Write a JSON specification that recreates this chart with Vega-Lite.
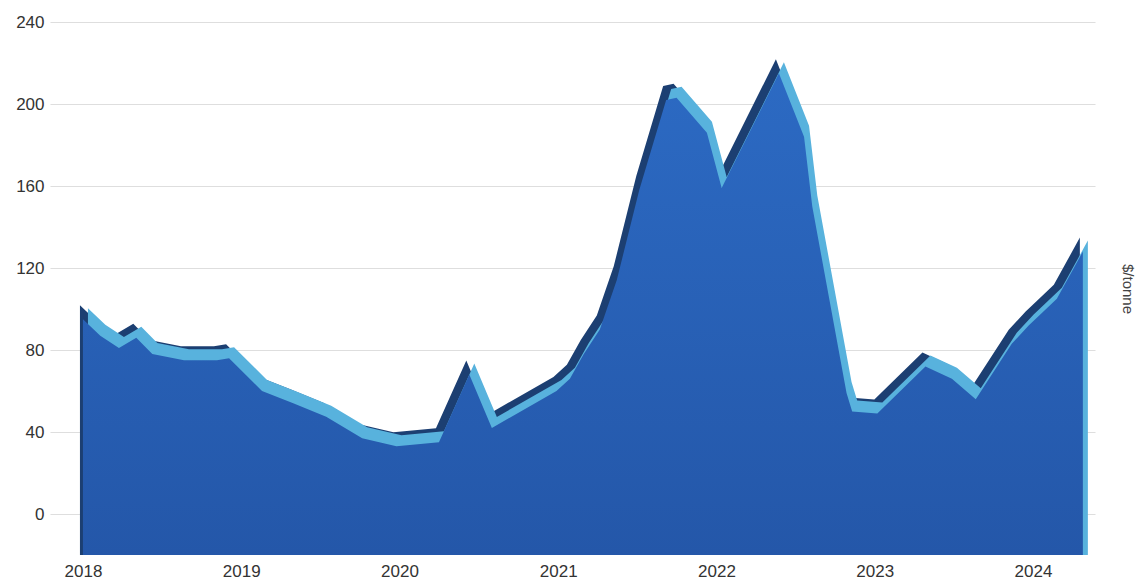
{
  "$schema": "https://vega.github.io/schema/vega-lite/v6.json",
  "autosize": {"type": "none"},
  "width": 1045,
  "height": 533,
  "padding": {"left": 50, "top": 22, "right": 52, "bottom": 31},
  "background": "white",
  "config": {
    "view": {"stroke": null},
    "font": "Liberation Sans",
    "axis": {"labelFont": "Liberation Sans", "labelColor": "#333333", "labelFontSize": 17, "domain": false, "ticks": false}
  },
  "data": {
    "values": [
      {"date": "2018-01-01", "price": 95},
      {"date": "2018-02-10", "price": 87},
      {"date": "2018-03-25", "price": 81},
      {"date": "2018-05-04", "price": 86},
      {"date": "2018-06-10", "price": 78},
      {"date": "2018-08-22", "price": 75},
      {"date": "2018-11-06", "price": 75},
      {"date": "2018-12-04", "price": 76},
      {"date": "2019-02-18", "price": 60},
      {"date": "2019-05-01", "price": 54},
      {"date": "2019-07-16", "price": 47.5},
      {"date": "2019-10-07", "price": 37},
      {"date": "2019-12-25", "price": 33},
      {"date": "2020-04-01", "price": 35},
      {"date": "2020-06-10", "price": 68},
      {"date": "2020-08-01", "price": 42},
      {"date": "2020-12-28", "price": 60},
      {"date": "2021-01-28", "price": 66},
      {"date": "2021-03-01", "price": 78},
      {"date": "2021-04-07", "price": 90},
      {"date": "2021-05-16", "price": 114},
      {"date": "2021-07-07", "price": 158},
      {"date": "2021-09-07", "price": 202},
      {"date": "2021-10-01", "price": 203},
      {"date": "2021-12-10", "price": 186},
      {"date": "2022-01-13", "price": 159},
      {"date": "2022-05-25", "price": 215},
      {"date": "2022-07-22", "price": 184},
      {"date": "2022-08-10", "price": 150},
      {"date": "2022-10-28", "price": 59},
      {"date": "2022-11-10", "price": 50},
      {"date": "2023-01-07", "price": 49},
      {"date": "2023-04-28", "price": 72},
      {"date": "2023-06-28", "price": 66},
      {"date": "2023-08-22", "price": 56},
      {"date": "2023-11-13", "price": 83},
      {"date": "2023-12-22", "price": 92},
      {"date": "2024-01-16", "price": 97},
      {"date": "2024-02-25", "price": 105},
      {"date": "2024-04-25", "price": 128}
    ]
  },
  "encoding": {
    "x": {
      "field": "date", "type": "temporal",
      "scale": {"domain": ["2017-10-17", "2024-05-23"]},
      "axis": {"format": "%Y", "tickCount": {"interval": "year", "step": 1}, "grid": false, "title": null, "labelDx": 13, "labelPadding": 8, "labelFontSize": 17}
    }
  },
  "layer": [
    {
      "mark": {"type": "area", "color": "#1c3f72", "xOffset": -3, "yOffset": -14, "interpolate": "linear"},
      "encoding": {
        "y": {
          "field": "price", "type": "quantitative",
          "scale": {"domain": [-20, 240], "nice": false, "zero": false},
          "axis": {"values": [0, 40, 80, 120, 160, 200, 240], "grid": true, "gridColor": "#dedede", "gridWidth": 1.2, "title": null, "labelPadding": 6, "orient": "left"}
        },
        "y2": {"datum": -20}
      }
    },
    {
      "mark": {"type": "area", "color": "#58b2dd", "xOffset": 5, "yOffset": -11, "interpolate": "linear"},
      "encoding": {
        "y": {
          "field": "price", "type": "quantitative",
          "axis": {"orient": "right", "labels": false, "grid": false, "title": "$/tonne", "titleAngle": 90, "titleFontSize": 15, "titleFontWeight": "normal", "titleColor": "#444444", "titlePadding": 24, "titleFont": "Liberation Sans"}
        },
        "y2": {"datum": -20}
      }
    },
    {
      "mark": {
        "type": "area",
        "interpolate": "linear",
        "color": {
          "gradient": "linear", "x1": 0, "y1": 0, "x2": 0, "y2": 1,
          "stops": [{"offset": 0, "color": "#2c6ac3"}, {"offset": 1, "color": "#2457a9"}]
        }
      },
      "encoding": {
        "y": {"field": "price", "type": "quantitative", "axis": null},
        "y2": {"datum": -20}
      }
    }
  ],
  "resolve": {"axis": {"y": "independent"}}
}
